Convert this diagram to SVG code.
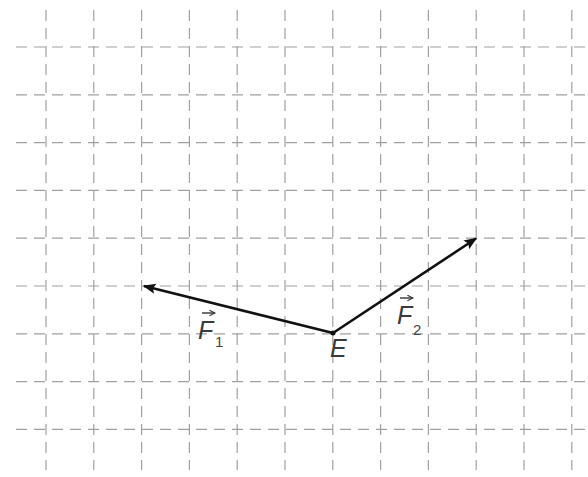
<svg xmlns="http://www.w3.org/2000/svg" width="588" height="477" viewBox="0 0 588 477">
<style>
.g{stroke:#a0a0a0;stroke-width:1.2;stroke-dasharray:11 7;fill:none}
.v{stroke:#111;stroke-width:2.6;fill:none}
.t{font-family:"Liberation Sans",Arial,sans-serif;font-style:italic;fill:#3a3a3a;font-size:25px}
.s{font-family:"Liberation Sans",Arial,sans-serif;fill:#444;font-size:15px}
.ar{stroke:#333;stroke-width:1.4;fill:none}
</style>
<defs>
<marker id="ah" viewBox="0 0 10 10" refX="9" refY="5" markerWidth="5" markerHeight="5" markerUnits="strokeWidth" orient="auto">
<path d="M0,1 L10,5 L0,9 L2,5 Z" fill="#111"/>
</marker>
<marker id="sa" viewBox="0 0 10 10" refX="9" refY="5" markerWidth="5" markerHeight="5" markerUnits="strokeWidth" orient="auto">
<path d="M1,1 L9,5 L1,9" fill="none" stroke="#333" stroke-width="1.5"/>
</marker>
</defs>
<rect width="588" height="477" fill="#fff"/>
<g id="grid">
<path class="g" d="M46,10V470M93.8,10V470M141.6,10V470M189.4,10V470M237.2,10V470M285,10V470M332.8,10V470M380.6,10V470M428.4,10V470M476.2,10V470M524,10V470M571.8,10V470"/>
<path class="g" d="M16,47H588M16,94.8H588M16,142.6H588M16,190.4H588M16,238.2H588M16,286H588M16,333.8H588M16,381.6H588M16,429.4H588"/>
</g>
<g id="connectors">
<line class="v" x1="333" y1="333" x2="144" y2="286" marker-end="url(#ah)"/>
<line class="v" x1="333" y1="333" x2="476" y2="238.5" marker-end="url(#ah)"/>
</g>
<g id="E">
<circle cx="333" cy="333" r="2.5" fill="#111"/>
<text class="t" x="330" y="357">E</text>
</g>
<g id="F1">
<line class="ar" x1="202" y1="313" x2="215" y2="313" marker-end="url(#sa)"/>
<text class="t" x="198" y="339">F</text>
<text class="s" x="215" y="347">1</text>
</g>
<g id="F2">
<line class="ar" x1="400" y1="298" x2="413" y2="298" marker-end="url(#sa)"/>
<text class="t" x="397" y="324">F</text>
<text class="s" x="413" y="335">2</text>
</g>
</svg>
